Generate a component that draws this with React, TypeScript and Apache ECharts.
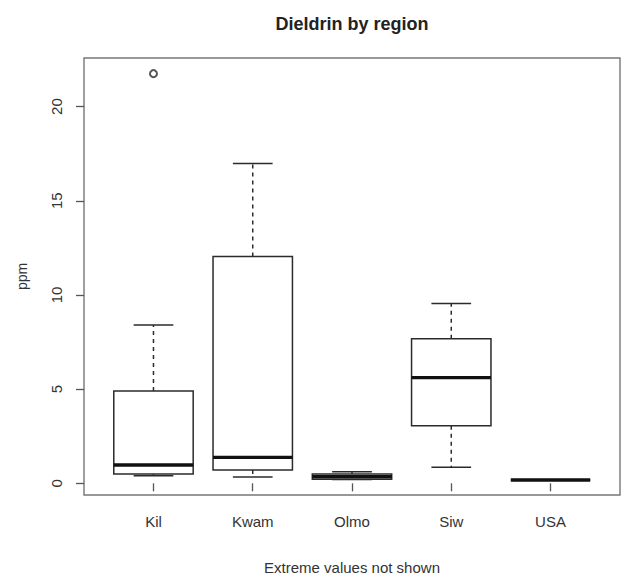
import React, { useEffect, useRef } from "react";
import * as echarts from "echarts";

const categories = ["Kil", "Kwam", "Olmo", "Siw", "USA"];
const lowWhisker = [0.4, 0.33, 0.2, 0.85, 0.18];
const q1 = [0.49, 0.71, 0.22, 3.06, 0.18];
const median = [0.97, 1.38, 0.35, 5.61, 0.18];
const q3 = [4.9, 12.04, 0.5, 7.67, 0.18];
const highWhisker = [8.41, 16.98, 0.62, 9.54, 0.18];
const outliers: [number, number][] = [[1, 21.75]];
const yTicks = [0, 5, 10, 15, 20];
const xTicks = [1, 2, 3, 4, 5];

const LINE = "#2b2b2b";

export default function App() {
  const ref = useRef<HTMLDivElement>(null);
  useEffect(() => {
    if (!ref.current) return;
    const chart = echarts.init(ref.current, undefined, { renderer: "svg" });
    const boxData = categories.map((_, i) => [
      i + 1,
      lowWhisker[i],
      q1[i],
      median[i],
      q3[i],
      highWhisker[i],
    ]);
    const font = "'Liberation Sans', Arial, Helvetica, sans-serif";
    chart.setOption({
      animation: false,
      backgroundColor: "#ffffff",
      title: {
        text: "Dieldrin by region",
        left: 352,
        textAlign: "center",
        top: 15,
        padding: 0,
        textStyle: {
          fontFamily: font,
          fontSize: 18,
          fontWeight: "bold",
          color: "#222",
        },
      },
      grid: {
        left: 84,
        right: 23,
        top: 58,
        bottom: 82,
        containLabel: false,
        outerBoundsMode: "none",
        show: true,
        borderColor: "#777",
        borderWidth: 1.4,
        backgroundColor: "transparent",
      },
      xAxis: {
        type: "value",
        min: 0.3,
        max: 5.7,
        splitLine: { show: false },
        axisLine: { show: false },
        axisTick: {
          show: true,
          customValues: xTicks,
          length: 8,
          lineStyle: { color: "#555", width: 1.3 },
        },
        axisLabel: {
          customValues: xTicks,
          formatter: (v: number) => categories[Math.round(v) - 1] ?? "",
          margin: 19,
          fontFamily: font,
          fontSize: 15,
          color: "#333",
        },
        name: "Extreme values not shown",
        nameLocation: "middle",
        nameGap: 65,
        nameTextStyle: { fontFamily: font, fontSize: 15, color: "#333" },
      },
      yAxis: {
        type: "value",
        min: -0.62,
        max: 22.58,
        splitLine: { show: false },
        axisLine: { show: false },
        axisTick: {
          show: true,
          customValues: yTicks,
          length: 8,
          lineStyle: { color: "#555", width: 1.3 },
        },
        axisLabel: {
          customValues: yTicks,
          rotate: 90,
          margin: 20,
          fontFamily: font,
          fontSize: 15,
          color: "#333",
        },
        name: "ppm",
        nameLocation: "middle",
        nameRotate: 90,
        nameGap: 55,
        nameTextStyle: { fontFamily: font, fontSize: 14, color: "#333" },
      },
      series: [
        {
          type: "custom",
          data: boxData,
          encode: { x: 0, y: [1, 2, 3, 4, 5] },
          renderItem: (params: any, api: any) => {
            const x = api.value(0);
            const lo = api.coord([x, api.value(1)]);
            const b1 = api.coord([x, api.value(2)]);
            const md = api.coord([x, api.value(3)]);
            const b3 = api.coord([x, api.value(4)]);
            const hi = api.coord([x, api.value(5)]);
            const cx = lo[0];
            const boxL = api.coord([x - 0.4, 0])[0];
            const boxR = api.coord([x + 0.4, 0])[0];
            const capL = api.coord([x - 0.2, 0])[0];
            const capR = api.coord([x + 0.2, 0])[0];
            const solid = { stroke: LINE, lineWidth: 1.5, fill: null };
            const dashed = { stroke: LINE, lineWidth: 1.5, lineDash: [4, 4] };
            return {
              type: "group",
              children: [
                {
                  type: "line",
                  shape: { x1: cx, y1: b3[1], x2: cx, y2: hi[1] },
                  style: dashed,
                },
                {
                  type: "line",
                  shape: { x1: cx, y1: b1[1], x2: cx, y2: lo[1] },
                  style: dashed,
                },
                {
                  type: "line",
                  shape: { x1: capL, y1: hi[1], x2: capR, y2: hi[1] },
                  style: solid,
                },
                {
                  type: "line",
                  shape: { x1: capL, y1: lo[1], x2: capR, y2: lo[1] },
                  style: solid,
                },
                {
                  type: "rect",
                  shape: {
                    x: boxL,
                    y: b3[1],
                    width: boxR - boxL,
                    height: b1[1] - b3[1],
                  },
                  style: { stroke: LINE, lineWidth: 1.5, fill: "#ffffff" },
                },
                {
                  type: "line",
                  shape: { x1: boxL, y1: md[1], x2: boxR, y2: md[1] },
                  style: { stroke: "#111", lineWidth: 3.4 },
                },
              ],
            };
          },
        },
        {
          type: "scatter",
          data: outliers,
          symbol: "emptyCircle",
          symbolSize: 7,
          itemStyle: { color: LINE, borderColor: LINE, borderWidth: 1.4 },
        },
      ],
    });
    return () => chart.dispose();
  }, []);
  return (
    <div
      ref={ref}
      style={{ position: "absolute", left: 0, top: 0, width: 643, height: 577 }}
    />
  );
}
